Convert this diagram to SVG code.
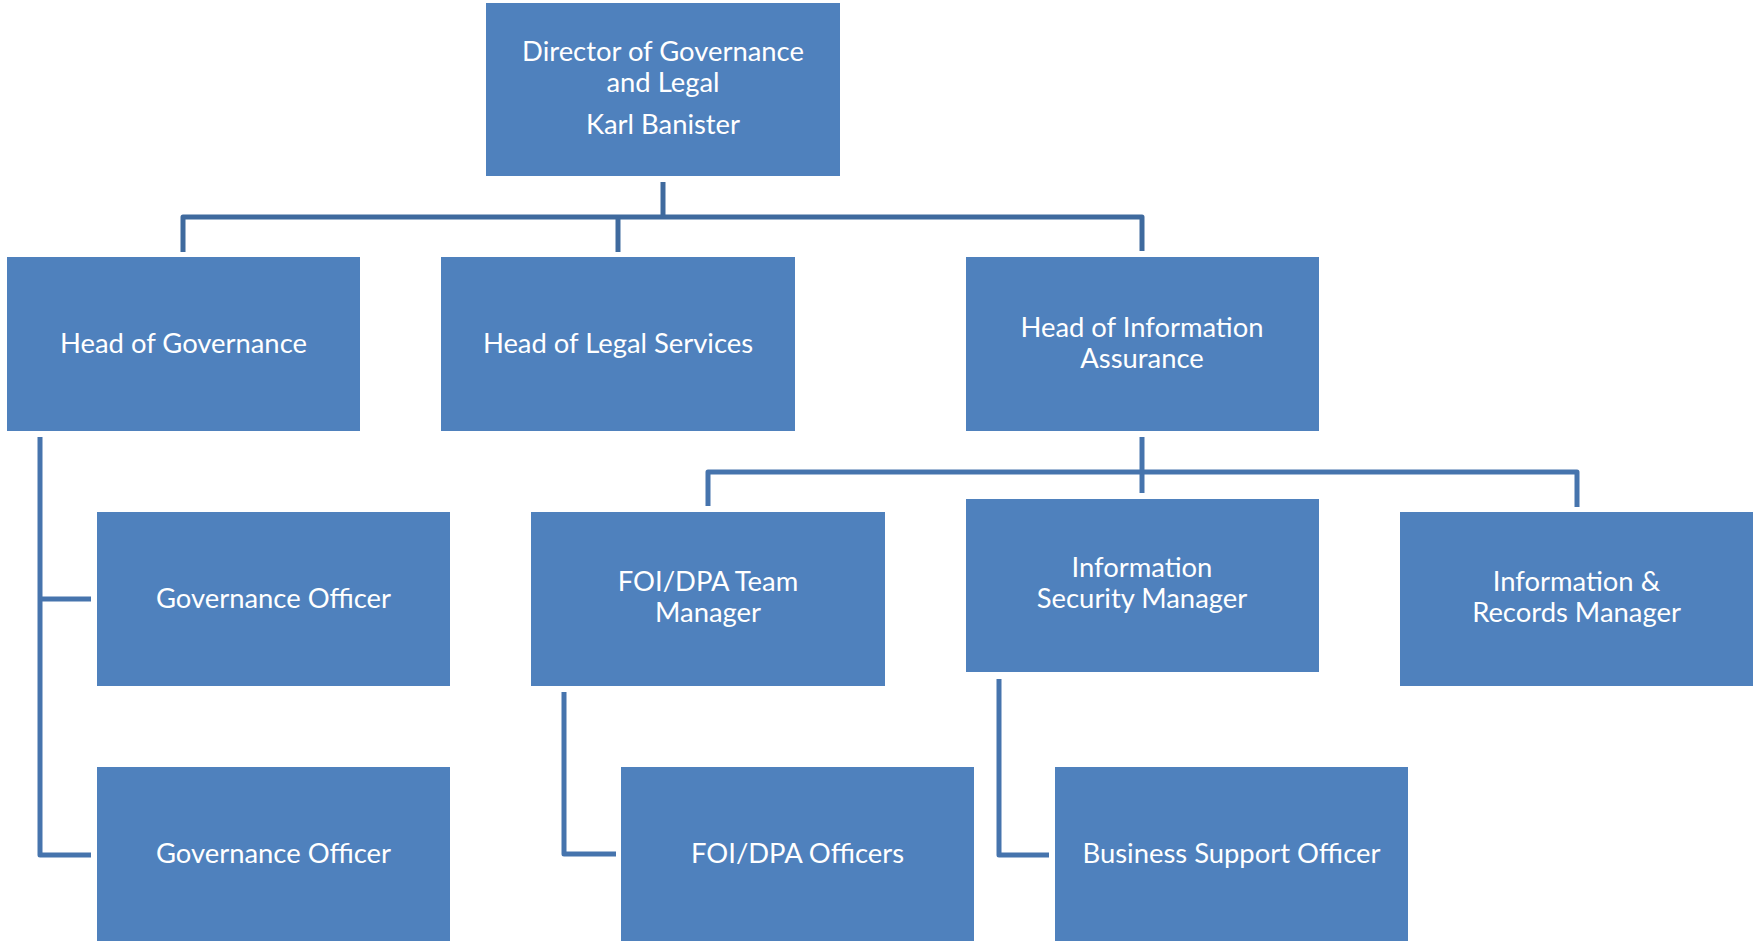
<svg xmlns="http://www.w3.org/2000/svg" width="1754" height="941" viewBox="0 0 1754 941">
<style>
.box{fill:#4F81BD;}
.lbl{font-family:Lato,"Open Sans","Liberation Sans",sans-serif;font-size:27.4px;fill:#ffffff;text-anchor:middle;}
.c1{fill:none;stroke:#3F6A9E;stroke-width:5;stroke-linejoin:round;}
.c2{fill:none;stroke:#4674AD;stroke-width:5;stroke-linejoin:round;}
</style>
<rect width="1754" height="941" fill="#ffffff"/>
<g id="connectors">
<path class="c1" d="M663 182 V217"/>
<path class="c1" d="M183 252 V217 H1142 V251"/>
<path class="c1" d="M618 217 V252"/>
<path class="c2" d="M1142 437 V493"/>
<path class="c2" d="M708 506 V472 H1577 V507"/>
<path class="c2" d="M40 437 V855 H91"/>
<path class="c2" d="M40 599 H91"/>
<path class="c2" d="M564 692 V854 H616"/>
<path class="c2" d="M999 679 V855 H1049"/>
</g>
<g id="director">
<rect class="box" x="486" y="3" width="354" height="173"/>
<text class="lbl" x="663" y="61">Director of Governance</text>
<text class="lbl" x="663" y="92">and Legal</text>
<text class="lbl" x="663" y="134">Karl Banister</text>
</g>
<g id="head-governance">
<rect class="box" x="7" y="257" width="353" height="174"/>
<text class="lbl" x="183.5" y="353">Head of Governance</text>
</g>
<g id="head-legal">
<rect class="box" x="441" y="257" width="354" height="174"/>
<text class="lbl" x="618" y="353">Head of Legal Services</text>
</g>
<g id="head-ia">
<rect class="box" x="966" y="257" width="353" height="174"/>
<text class="lbl" x="1142" y="337">Head of Information</text>
<text class="lbl" x="1142" y="368">Assurance</text>
</g>
<g id="gov-officer-1">
<rect class="box" x="97" y="512" width="353" height="174"/>
<text class="lbl" x="273.5" y="608">Governance Officer</text>
</g>
<g id="gov-officer-2">
<rect class="box" x="97" y="767" width="353" height="174"/>
<text class="lbl" x="273.5" y="863">Governance Officer</text>
</g>
<g id="foi-team-manager">
<rect class="box" x="531" y="512" width="354" height="174"/>
<text class="lbl" x="708" y="591">FOI/DPA Team</text>
<text class="lbl" x="708" y="622">Manager</text>
</g>
<g id="info-security-manager">
<rect class="box" x="966" y="499" width="353" height="173"/>
<text class="lbl" x="1142" y="577">Information</text>
<text class="lbl" x="1142" y="608">Security Manager</text>
</g>
<g id="info-records-manager">
<rect class="box" x="1400" y="512" width="353" height="174"/>
<text class="lbl" x="1576.5" y="591">Information &amp;</text>
<text class="lbl" x="1576.5" y="622">Records Manager</text>
</g>
<g id="foi-officers">
<rect class="box" x="621" y="767" width="353" height="174"/>
<text class="lbl" x="797.5" y="863">FOI/DPA Officers</text>
</g>
<g id="business-support">
<rect class="box" x="1055" y="767" width="353" height="174"/>
<text class="lbl" x="1231.5" y="863">Business Support Officer</text>
</g>
</svg>
